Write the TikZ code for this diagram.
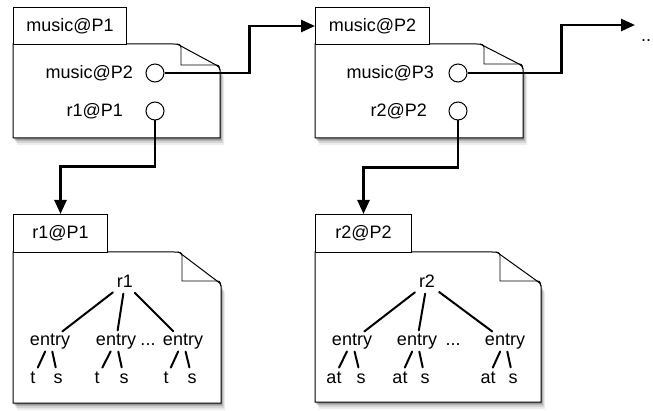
\documentclass[tikz,border=0pt]{standalone}
\usepackage{fontspec}
\setmainfont{Liberation Sans}
\usetikzlibrary{arrows.meta}
\tikzset{
  boxline/.style={draw=black, line width=1pt, fill=white},
  tab/.style={draw, line width=1pt, fill=white, inner sep=0pt, anchor=north west},
  port/.style={circle, draw, line width=1pt, fill=white, minimum size=18pt, inner sep=0pt},
  lbl/.style={anchor=east, inner sep=0pt},
  conn/.style={line width=2.5pt, -{Triangle[length=14pt,width=12pt]}},
  tnode/.style={inner sep=1.5pt, text height=11pt, text depth=1pt},
  tedge/.style={line width=2pt, line cap=round, shorten <=3pt, shorten >=3pt},
}
% #1 L, #2 T, #3 R, #4 B, #5 fold width, #6 fold height
\newcommand\docbody[6]{%
  \foreach \dx/\dy/\op in {1/2/0.16, 2/3/0.14, 3/5/0.10, 4/7/0.07}{%
    \fill[black, opacity=\op] ({#1+\dx},{#2+\dy}) -- ({#3-#5+\dx},{#2+\dy}) -- ({#3+\dx},{#2+#6+\dy}) -- ({#3+\dx},{#4+\dy}) -- ({#1+\dx},{#4+\dy}) -- cycle;
  }
  \draw[boxline] (#1,#2) -- ({#3-#5},#2) .. controls ({#3-#5+4},#2) .. ({#3-#5+6},{#2+1})
     -- ({#3-4},{#2+#6-5}) .. controls ({#3-1},{#2+#6-3}) .. (#3,{#2+#6})
     -- (#3,#4) -- (#1,#4) -- cycle;
  \draw[line width=0.9pt] ({#3-#5+4},#2) .. controls ({#3-#5+8},{#2+1}) .. ({#3-#5+8},{#2+6})
     -- ({#3-#5+8},{#2+#6-5}) -- ({#3-6},{#2+#6-5}) .. controls ({#3-1},{#2+#6-5}) .. (#3,{#2+#6});
}
\begin{document}
\begin{tikzpicture}[x=1pt, y=-1pt, font=\fontsize{18}{21}\selectfont]
\useasboundingbox (0,0) rectangle (653,411);
\fill[white] (0,0) rectangle (653,411);

% bodies
\docbody{13}{44}{220}{138}{47}{26}
\docbody{315}{44}{523}{138}{47}{25}
\docbody{13}{252}{221}{403}{47}{34}
\docbody{315}{252}{541}{402}{49}{34}

% tabs
\node[tab, minimum width=113pt, minimum height=37pt] (t1) at (13,7) {music@P1};
\node[tab, minimum width=114pt, minimum height=37pt] (t2) at (315,7) {music@P2};
\node[tab, minimum width=94pt, minimum height=38pt] (t3) at (13,214) {r1@P1};
\node[tab, minimum width=96pt, minimum height=38pt] (t4) at (315,214) {r2@P2};

% labels and ports
\node[lbl] (l1) at (133,73) {music@P2};
\node[lbl] (l2) at (123,111) {r1@P1};
\node[lbl] (l3) at (434,73) {music@P3};
\node[lbl] (l4) at (427,111) {r2@P2};
\node[port] (p1) at (155,73) {};
\node[port] (q1) at (155,111) {};
\node[port] (p2) at (458,73) {};
\node[port] (q2) at (458,111) {};

% connectors
\coordinate (more) at (635,25);
\node[anchor=west, inner sep=0pt] (dots) at (641,41) {..};
\draw[conn] (p1.east) -- ++(85,0) |- (t2.west);
\draw[conn] (p2.east) -- ++(94,0) |- (more);
\draw[conn] (q1.south) -- ++(0,46) -| (t3.north);
\draw[conn] (q2.south) -- ++(0,47) -| (t4.north);

% tree 1
\node[tnode] (r1) at (125,283) {r1};
\node[tnode] (e11) at (50,341) {entry};
\node[tnode] (e12) at (116,341) {entry};
\node[tnode] (e13) at (183,341) {entry};
\node[tnode] (d1) at (148,341) {...};
\node[tnode] (a11) at (33,378) {t};
\node[tnode] (b11) at (58,378) {s};
\node[tnode] (a12) at (97,378) {t};
\node[tnode] (b12) at (124,378) {s};
\node[tnode] (a13) at (166,378) {t};
\node[tnode] (b13) at (192,378) {s};
\foreach \e in {e11,e12,e13} \draw[tedge] (r1) -- (\e);
\draw[tedge] (e11) -- (a11); \draw[tedge] (e11) -- (b11);
\draw[tedge] (e12) -- (a12); \draw[tedge] (e12) -- (b12);
\draw[tedge] (e13) -- (a13); \draw[tedge] (e13) -- (b13);

% tree 2
\node[tnode] (r2) at (427,283) {r2};
\node[tnode] (e21) at (352,341) {entry};
\node[tnode] (e22) at (417,341) {entry};
\node[tnode] (e23) at (505,341) {entry};
\node[tnode] (d2) at (453,341) {...};
\node[tnode] (a21) at (334,378) {at};
\node[tnode] (b21) at (361,378) {s};
\node[tnode] (a22) at (400,378) {at};
\node[tnode] (b22) at (425,378) {s};
\node[tnode] (a23) at (488,378) {at};
\node[tnode] (b23) at (513,378) {s};
\foreach \e in {e21,e22,e23} \draw[tedge] (r2) -- (\e);
\draw[tedge] (e21) -- (a21); \draw[tedge] (e21) -- (b21);
\draw[tedge] (e22) -- (a22); \draw[tedge] (e22) -- (b22);
\draw[tedge] (e23) -- (a23); \draw[tedge] (e23) -- (b23);
\end{tikzpicture}
\end{document}
